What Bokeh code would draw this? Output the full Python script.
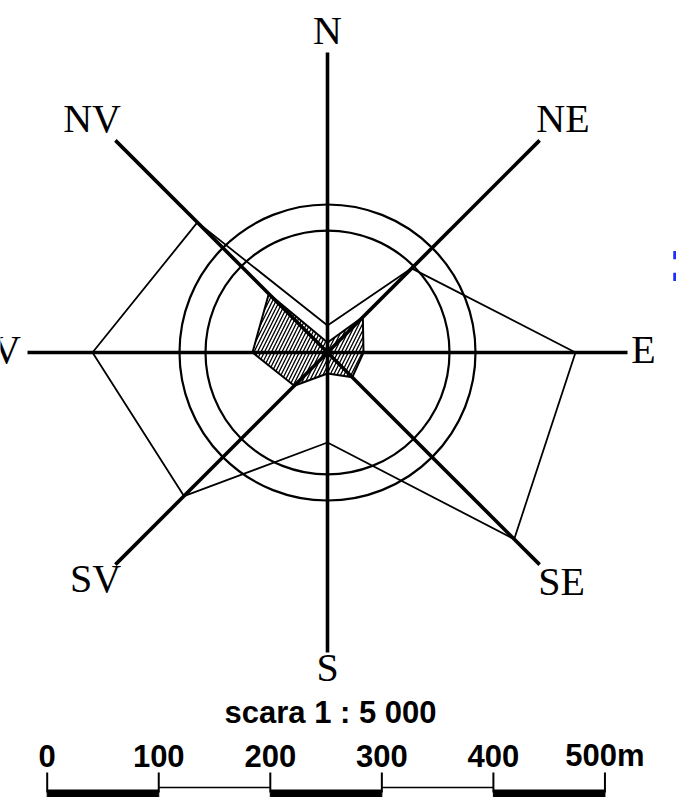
import numpy as np
from bokeh.plotting import figure
from bokeh.models import Range1d
from bokeh.core.properties import value
from bokeh.embed import file_html
from bokeh.resources import INLINE

# ---- data ----
directions = ["N", "NE", "E", "SE", "S", "SV", "V", "NV"]
angles_deg = [90, 45, 0, -45, -90, -135, 180, 135]
outer_values = [27, 119, 248, 264, 90, 203, 235, 184]
hatched_values = [10, 50, 36, 35, 21, 47, 75, 83]
circle_radii = [122, 148]
axis_length = 300

scale_ticks = [0, 100, 200, 300, 400, 500]
scale_labels = ["0", "100", "200", "300", "400", "500m"]
scale_title = "scara 1 : 5 000"

# ---- layout constants ----
label_r = {"N": 319, "E": 316, "S": 316, "V": 321, "NE": 333, "NV": 333, "SE": 331, "SV": 328}
label_dy = {"NE": -4, "NV": -4, "SE": 2, "SV": 3, "S": -2}
bar_x0 = -280.3
px_per_m = 1.1155

ang = np.radians(angles_deg)

p = figure(width=676, height=797, x_range=Range1d(-327, 349), y_range=Range1d(-445, 352),
           output_backend="svg", toolbar_location=None, min_border=0,
           x_axis_type=None, y_axis_type=None)
p.grid.visible = False
p.outline_line_color = None
p.background_fill_color = "white"
p.border_fill_color = "white"

def polar(vals):
    v = np.asarray(vals, dtype=float)
    return v * np.cos(ang), v * np.sin(ang)

# hatched series
hx, hy = polar(hatched_values)
p.patch(list(hx) + [hx[0]], list(hy) + [hy[0]], fill_alpha=0, line_color="black", line_width=2,
        hatch_pattern="/", hatch_color="black", hatch_weight=1.3, hatch_scale=7)

# outer series
ox, oy = polar(outer_values)
p.patch(list(ox) + [ox[0]], list(oy) + [oy[0]], fill_alpha=0, line_color="black", line_width=1.8)

# circles
p.circle(x=[0] * len(circle_radii), y=[0] * len(circle_radii), radius=circle_radii,
         fill_color=None, line_color="black", line_width=2.2)

# axes
ax, ay = polar([axis_length] * len(directions))
p.segment(x0=[0] * len(directions), y0=[0] * len(directions), x1=ax, y1=ay,
          line_color="black", line_width=3.6)

# direction labels (point = cap-height centre)
lr = [label_r[d] for d in directions]
lx, ly = polar(lr)
ly = ly + np.array([label_dy.get(d, 0) for d in directions])
p.text(x=lx, y=ly, text=directions, text_font=value("Liberation Serif"), text_font_size="40px",
       text_align="center", text_baseline="alphabetic", y_offset=-3, text_color="black")

# stray blue mark at the right edge
p.text(x=[340], y=[352 - 284], text=[":"], text_font=value("Liberation Sans"), text_font_style="bold",
       text_font_size="60px", text_align="left", text_baseline="alphabetic", y_offset=-24,
       text_color="#1f2bff")

# scale bar
tx = [bar_x0 + t * px_per_m for t in scale_ticks]
bar_line = -435
bar_top = -437.5
for i in range(len(scale_ticks) - 1):
    x0, x1 = tx[i], tx[i + 1]
    if i % 2 == 0:
        p.quad(left=x0, right=x1, top=bar_top, bottom=-460, fill_color="black", line_color="black")
    else:
        p.segment(x0=x0, y0=bar_line, x1=x1, y1=bar_line, line_color="black", line_width=1.3)
p.segment(x0=tx, y0=[-420] * len(tx), x1=tx, y1=[-440] * len(tx), line_color="black", line_width=2)
p.text(x=tx, y=[-415] * len(tx), text=scale_labels, text_font=value("Liberation Sans"),
       text_font_style="bold", text_font_size="31px", text_align="center", text_baseline="alphabetic",
       y_offset=-12)
p.text(x=[3], y=[-372], text=[scale_title], text_font=value("Liberation Sans"),
       text_font_style="bold", text_font_size="31px", text_align="center", text_baseline="alphabetic",
       y_offset=-12)

open("out.html", "w").write(file_html(p, INLINE))
